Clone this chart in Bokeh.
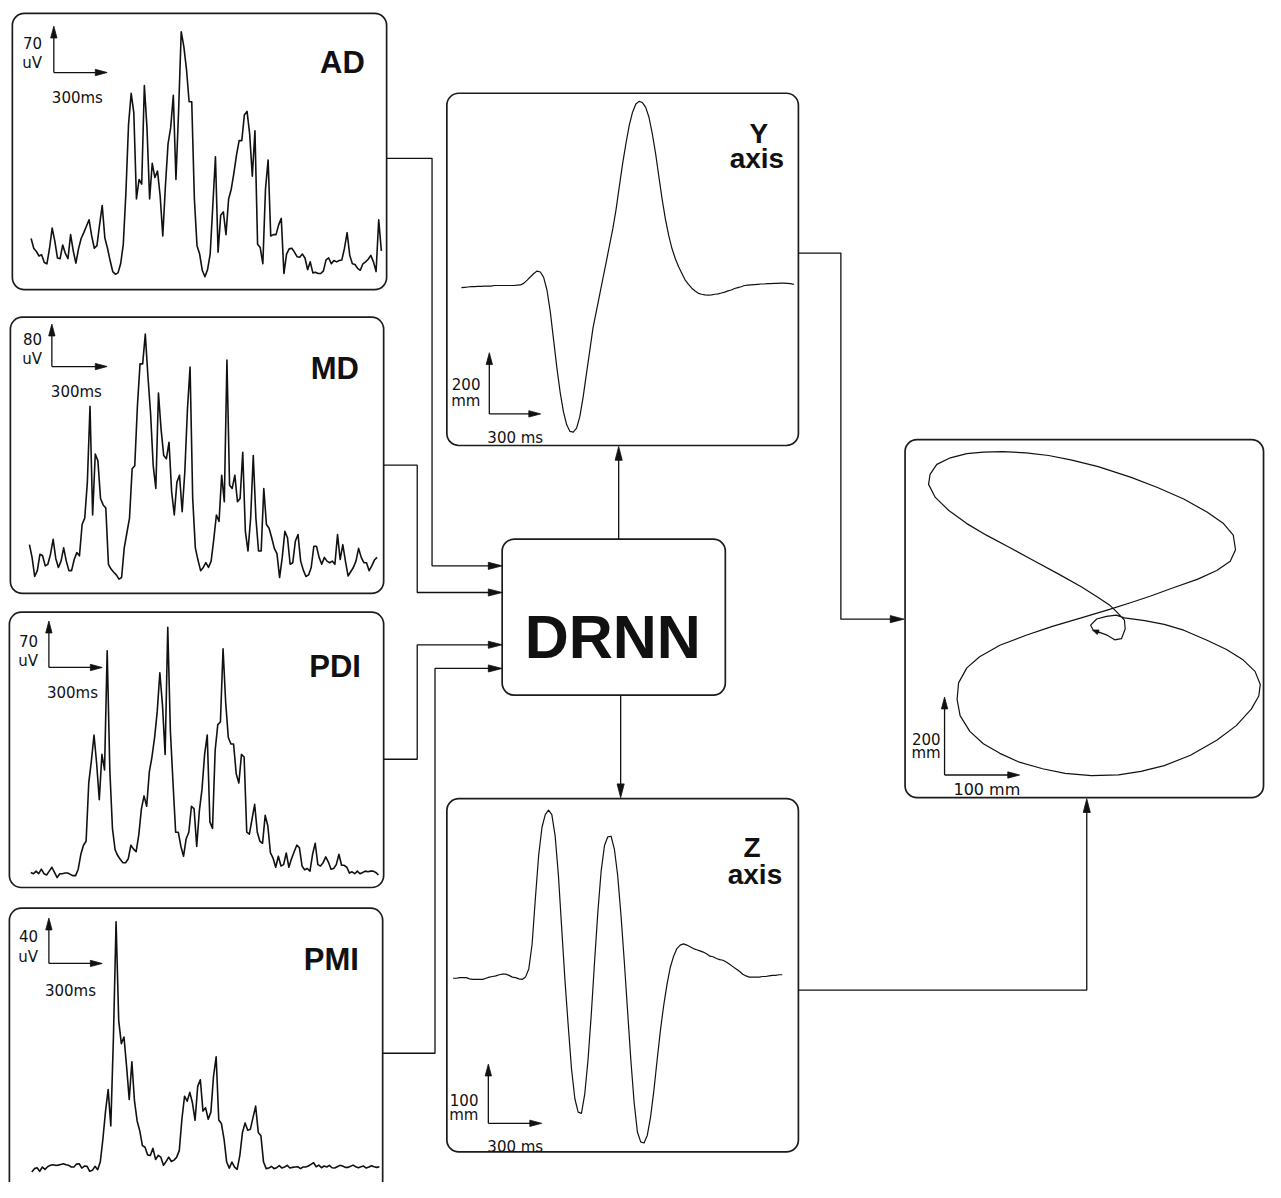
import math
import numpy as np
from bokeh.plotting import figure
from bokeh.models import Range1d, Label
from bokeh.embed import file_html
from bokeh.resources import INLINE

# ---------------- data ----------------
# EMG envelopes, amplitude in uV, sampled every 14.8 ms
emg_dt_ms = 14.8
ad_uv = [59, 44, 39, 32, 34, 22, 20, 44, 75, 55, 29, 28, 49, 36, 28, 65, 40, 21, 43, 59,
         68, 78, 88, 63, 44, 48, 80, 110, 60, 44, 25, 8, 4, 6, 20, 50, 130, 235, 283, 253,
         120, 150, 143, 295, 230, 120, 175, 153, 163, 125, 63, 140, 205, 230, 280, 150, 255, 378, 355, 320,
         270, 270, 120, 48, 35, 10, 0, 11, 35, 110, 185, 38, 95, 100, 65, 120, 135, 160, 188, 210,
         210, 250, 255, 220, 155, 225, 50, 45, 20, 135, 180, 63, 65, 65, 80, 90, 5, 35, 43, 44,
         38, 31, 30, 35, 29, 11, 23, 6, 7, 5, 5, 9, 26, 29, 20, 25, 23, 25, 26, 44,
         68, 33, 20, 19, 13, 10, 20, 23, 27, 33, 23, 8, 88, 40]
md_uv = [71, 47, 11, 22, 53, 50, 31, 34, 53, 81, 45, 28, 40, 65, 40, 22, 22, 43, 56, 50,
         109, 121, 189, 332, 127, 242, 229, 158, 146, 140, 34, 25, 19, 14, 6, 9, 65, 93, 121, 214,
         220, 332, 412, 412, 468, 388, 319, 220, 177, 357, 288, 239, 233, 264, 171, 127, 189, 202, 133, 208,
         326, 406, 158, 65, 42, 22, 28, 37, 28, 40, 81, 127, 115, 202, 152, 419, 183, 177, 202, 152,
         158, 245, 96, 59, 121, 239, 121, 59, 59, 177, 109, 102, 84, 64, 54, 9, 47, 96, 84, 34,
         37, 78, 90, 40, 23, 11, 14, 28, 68, 68, 47, 34, 47, 40, 37, 40, 34, 90, 43, 71,
         40, 12, 20, 28, 40, 64, 47, 37, 37, 22, 31, 42, 47]
pdi_uv = [10, 8, 12, 8, 15, 8, 6, 12, 18, 10, 2, 8, 8, 9, 9, 7, 5, 5, 15, 38,
          52, 58, 148, 182, 222, 178, 122, 192, 168, 352, 168, 78, 45, 36, 30, 25, 25, 31, 52, 46,
          42, 68, 108, 128, 112, 165, 188, 218, 258, 318, 268, 192, 388, 228, 148, 72, 72, 50, 35, 62,
          72, 112, 108, 50, 105, 138, 192, 222, 88, 78, 198, 238, 242, 355, 272, 218, 208, 208, 162, 148,
          192, 188, 72, 69, 92, 115, 72, 58, 55, 98, 82, 40, 32, 18, 35, 20, 22, 40, 18, 31,
          42, 52, 48, 20, 14, 16, 12, 38, 55, 22, 20, 25, 34, 26, 15, 16, 22, 38, 21, 21,
          18, 9, 11, 8, 12, 8, 10, 12, 11, 12, 12, 10, 6]
pmi_uv = [1.5, 4.4, 5.2, 2.0, 5.8, 3.8, 6.1, 7.3, 7.8, 7.3, 7.5, 8.1, 8.7, 7.8, 7.3, 5.8, 5.8, 8.4, 8.7, 4.9,
          6.7, 6.4, 2.0, 2.9, 6.4, 3.5, 10.2, 30.5, 55.1, 74.0, 42.1, 120.4, 221.9, 134.9, 114.6, 120.4, 94.3, 65.3, 98.6, 63.8,
          46.4, 37.7, 24.7, 23.2, 16.5, 16.0, 22.3, 12.5, 16.0, 14.5, 7.3, 10.7, 14.5, 10.7, 11.9, 14.5, 20.3, 47.9, 68.2, 63.8,
          71.6, 62.4, 47.0, 76.9, 82.7, 55.1, 58.0, 47.9, 54.2, 85.6, 103.0, 47.3, 44.1, 30.5, 10.2, 4.9, 10.2, 5.8, 3.8, 16.0,
          36.3, 44.7, 38.3, 39.2, 49.3, 59.5, 36.3, 33.4, 10.2, 4.4, 4.9, 6.4, 4.4, 5.2, 7.0, 4.9, 5.8, 7.3, 4.9, 5.5,
          5.8, 6.1, 4.4, 5.8, 5.8, 6.7, 8.1, 9.6, 6.1, 7.5, 5.2, 6.7, 5.8, 7.3, 5.2, 4.9, 6.1, 7.3, 6.7, 5.5,
          5.5, 6.4, 7.5, 6.1, 5.2, 6.1, 6.7, 4.9, 5.8, 7.0, 6.1, 5.5, 6.1]

# DRNN outputs: hand position in mm
y_dt_ms = 19.4
y_axis_mm = [0, 1, 2, 3, 3, 4, 4, 5, 5, 5, 7, 7, 7, 7, 7, 7, 7, 8, 9, 15,
             25, 36, 47, 55, 52, 34, -8, -79, -172, -265, -347, -412, -456, -478, -480, -467, -428, -363, -286, -210,
             -133, -79, -24, 31, 85, 140, 195, 260, 337, 413, 479, 539, 583, 610, 619, 615, 599, 566, 512, 446,
             369, 293, 227, 173, 129, 96, 69, 47, 25, 11, -2, -11, -19, -22, -24, -25, -24, -22, -21, -18,
             -15, -11, -8, -3, 0, 3, 7, 8, 9, 10, 11, 12, 12, 13, 13, 14, 14, 15, 15, 14,
             13, 11]
z_dt_ms = 18.8
z_axis_mm = [0, 0, 1, 1, 1, -1, -2, -2, -2, -2, 0, 2, 3, 4, 6, 7, 7, 5, 2, 1,
             -1, -2, 2, 16, 58, 137, 211, 259, 281, 289, 281, 245, 177, 86, -4, -83, -157, -207, -230, -232,
             -199, -140, -61, 30, 115, 185, 228, 243, 244, 222, 177, 109, 30, -55, -140, -213, -264, -281, -283, -270,
             -238, -193, -140, -89, -46, -10, 19, 38, 51, 57, 59, 57, 54, 51, 49, 47, 45, 42, 38, 37,
             34, 32, 31, 28, 24, 20, 16, 12, 7, 4, 2, 2, 2, 2, 3, 3, 4, 5, 5, 6,
             6]
# trajectory (horizontal / vertical, mm)
traj_h_mm = [0, -4, 4, 17, 30, 41, 68, 94, 120, 151, 177, 199, 215, 222, 220, 210, 190, 164, 129, 94,
             63, 33, -3, -38, -68, -99, -125, -147, -165, -178, -182, -180, -169, -152, -125, -90, -55, -20, 19, 50,
             76, 107, 138, 164, 182, 189, 186, 173, 151, 120, 85, 50, 6, -29, -60, -90, -121, -147, -169, -191,
             -209, -218, -220, -211, -193, -169, -143, -112, -82, -46, -16, 6, 22, 30, 41, 42, 37, 28, 17, 7, 0]
traj_v_mm = [0, 15, 31, 38, 41, 34, 27, 17, 2, -24, -48, -75, -105, -139, -169, -203, -246, -284, -323, -350,
             -365, -374, -376, -370, -358, -341, -318, -293, -261, -220, -178, -135, -96, -67, -37, -11, 12, 32, 55, 74,
             91, 113, 134, 157, 181, 211, 249, 279, 309, 343, 373, 399, 427, 444, 456, 463, 466, 465, 461, 450,
             433, 407, 381, 347, 313, 279, 249, 217, 185, 147, 114, 87, 66, 51, 28, 5, -20, -23, -10, -3, 0]

muscle_names = ["AD", "MD", "PDI", "PMI"]
muscle_scale_uv = ["70", "80", "70", "40"]

# ---------------- canvas: one figure showing the whole diagram ----------------
W, H = 1265, 1182          # figure size on the page
RW, RH = 1281, 1198        # diagram coordinate space
p = figure(width=W, height=H, x_range=Range1d(0, RW), y_range=Range1d(RH, 0),
           output_backend="svg", toolbar_location=None, min_border=0,
           x_axis_location=None, y_axis_location=None, title=None)
p.grid.visible = False
p.outline_line_color = None
p.background_fill_color = "white"
p.border_fill_color = "white"

INK = "#111111"

# rounded frames
frames = [(12, 391, 13, 293), (10, 388, 321, 601), (9, 388, 620, 899), (9, 387, 920, 1225),
          (452, 808, 94, 451), (452, 808, 809, 1167), (508, 734, 546, 704), (916, 1279, 445, 808)]
p.quad(left=[f[0] for f in frames], right=[f[1] for f in frames],
       top=[f[2] for f in frames], bottom=[f[3] for f in frames],
       fill_color=None, line_color="#1c1c1c", line_width=1.7, border_radius=12)


def trace(name, xs, ys, x_org, y_org, x_per_px, y_per_px, lw):
    p.extra_x_ranges[name] = Range1d((0 - x_org) * x_per_px, (RW - x_org) * x_per_px)
    p.extra_y_ranges[name] = Range1d((y_org - RH) * y_per_px, (y_org - 0) * y_per_px)
    p.line(xs, ys, x_range_name=name, y_range_name=name, line_color=INK,
           line_width=lw, line_join="round")


emg_step_px = 8 / 3
emg_x_per_px = emg_dt_ms / emg_step_px
trace("AD", np.arange(len(ad_uv)) * emg_dt_ms, ad_uv, 31.0, 280.0, emg_x_per_px, 70 / 46, 1.6)
trace("MD", np.arange(len(md_uv)) * emg_dt_ms, md_uv, 29.3, 589.7, emg_x_per_px, 80 / 43, 1.6)
trace("PDI", np.arange(len(pdi_uv)) * emg_dt_ms, pdi_uv, 30.7, 890.3, emg_x_per_px, 70 / 46, 1.6)
trace("PMI", np.arange(len(pmi_uv)) * emg_dt_ms, pmi_uv, 31.7, 1189.0, emg_x_per_px, 40 / 46, 1.6)
trace("Y", np.arange(len(y_axis_mm)) * y_dt_ms, y_axis_mm, 466.7, 291.0, y_dt_ms / (10 / 3), 200 / 61, 1.2)
trace("Z", np.arange(len(z_axis_mm)) * z_dt_ms, z_axis_mm, 458.3, 991.0, z_dt_ms / (10 / 3), 100 / 59, 1.2)
trace("XY", traj_h_mm, traj_v_mm, 1107.0, 639.0, 100 / 76, 200 / 78, 1.2)

# ---------------- arrows / connectors ----------------
line_xs, line_ys = [], []
head_xs, head_ys = [], []


def arrow(pts, L, hw):
    (x1, y1), (x2, y2) = pts[-2], pts[-1]
    d = math.hypot(x2 - x1, y2 - y1)
    ux, uy = (x2 - x1) / d, (y2 - y1) / d
    bx, by = x2 - ux * L, y2 - uy * L
    line_xs.append([q[0] for q in pts[:-1]] + [bx + ux * 1])
    line_ys.append([q[1] for q in pts[:-1]] + [by + uy * 1])
    head_xs.append([x2, bx - uy * hw, bx + uy * hw])
    head_ys.append([y2, by + ux * hw, by - ux * hw])


# connectors
arrow([(391, 160), (437, 160), (437, 573), (508, 573)], 14, 3.6)
arrow([(388, 471), (422, 471), (422, 600), (508, 600)], 14, 3.6)
arrow([(388, 769), (422, 769), (422, 653), (508, 653)], 14, 3.6)
arrow([(387, 1067), (440, 1067), (440, 677), (508, 677)], 14, 3.6)
arrow([(626, 546), (626, 452)], 14, 3.6)
arrow([(628, 704), (628, 808)], 14, 3.6)
arrow([(808, 256), (851, 256), (851, 627), (915, 627)], 14, 3.6)
arrow([(808, 1003), (1100, 1003), (1100, 809)], 14, 3.6)

# scale bars (corner, up-tip, right-tip)
scale_bars = [((54, 73), (54, 26), (108, 73)),
              ((52, 371), (52, 328), (108, 371)),
              ((49, 676), (49, 629), (103, 676)),
              ((49, 976), (49, 930), (103, 976)),
              ((495, 419), (495, 357), (547, 419)),
              ((494, 1138), (494, 1078), (548, 1138)),
              ((956, 785), (956, 706), (1032, 785))]
for c, up, rt in scale_bars:
    arrow([c, up], 12, 3.2)
    arrow([c, rt], 12, 3.2)

# start mark of the trajectory
arrow([(1113, 641), (1106, 638)], 6, 2.5)

p.multi_line(line_xs, line_ys, line_color=INK, line_width=1.3)
p.patches(head_xs, head_ys, fill_color=INK, line_color=INK, line_width=0.8)


# ---------------- texts ----------------
def lab(text, x, y, size, align="left", bold=False, font="DejaVu Sans"):
    p.add_layout(Label(x=x, y=y, text=text, text_font=font, text_font_size=f"{size}px",
                       text_font_style="bold" if bold else "normal", text_align=align,
                       text_baseline="alphabetic", text_color=INK))


BOLD = "Liberation Sans"
emg_label_pos = [(369, 63), (363, 373), (365, 675), (363, 972)]
emg_scale_pos = [(42, 43, 63, 52, 99), (42, 343, 363, 51, 397), (38, 649, 669, 47, 702), (38, 948, 969, 45, 1004)]
for name, sv, (lx, ly), (rx, b1, b2, tx, tb) in zip(muscle_names, muscle_scale_uv, emg_label_pos, emg_scale_pos):
    lab(name, lx, ly, 31, "right", True, BOLD)
    lab(sv, rx, b1, 15, "right")
    lab("uV", rx, b2, 15, "right")
    lab("300ms", tx, tb, 15, "left")

lab("Y", 768, 135, 28, "center", True, BOLD)
lab("axis", 766, 160, 28, "center", True, BOLD)
lab("Z", 761, 858, 28, "center", True, BOLD)
lab("axis", 764, 886, 28, "center", True, BOLD)
lab("200", 486, 389, 15, "right")
lab("mm", 486, 406, 15, "right")
lab("300 ms", 493, 443, 15, "left")
lab("100", 484, 1114, 15, "right")
lab("mm", 484, 1130, 15, "right")
lab("300 ms", 493, 1162, 15, "left")
lab("200", 952, 748, 15, "right")
lab("mm", 952, 763, 15, "right")
lab("100 mm", 965, 800, 16, "left")
lab("DRNN", 620, 645, 61, "center", True, BOLD)

open("out.html", "w").write(file_html(p, INLINE))
